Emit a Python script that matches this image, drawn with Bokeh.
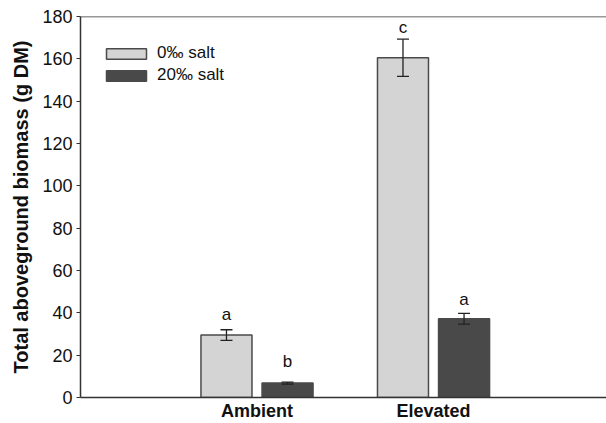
import numpy as np
from bokeh.plotting import figure
from bokeh.models import (ColumnDataSource, Whisker, TeeHead, Legend, LegendItem,
                          FixedTicker, Span, Range1d)
from bokeh.core.properties import value
from bokeh.embed import file_html
from bokeh.resources import INLINE

# ---- data ----
treatments = ["Ambient", "Elevated"]
salt0_mean = [29.5, 160.5]
salt0_se = [2.5, 8.8]
salt20_mean = [6.8, 37.2]
salt20_se = [0.5, 2.5]
letters0 = ["a", "c"]
letters20 = ["b", "a"]
y_ticks = [0, 20, 40, 60, 80, 100, 120, 140, 160, 180]

# annotation heights for significance letters (data units)
letters0_y = [39.3, 174.6]
letters20_y = [17.2, 46.2]

FONT = "Liberation Sans"
LIGHT = "#d4d4d4"
DARK = "#494949"
EDGE = "#4a4a4a"

xc = np.arange(1, len(treatments) + 1, dtype=float)
off = 0.173
bw = 0.289

src0 = ColumnDataSource(dict(
    x=xc - off, top=salt0_mean,
    upper=np.array(salt0_mean) + np.array(salt0_se),
    lower=np.array(salt0_mean) - np.array(salt0_se),
    lab=letters0, ly=letters0_y))
src20 = ColumnDataSource(dict(
    x=xc + off, top=salt20_mean,
    upper=np.array(salt20_mean) + np.array(salt20_se),
    lower=np.array(salt20_mean) - np.array(salt20_se),
    lab=letters20, ly=letters20_y))

p = figure(width=606, height=423, output_backend="svg", toolbar_location=None,
           x_range=Range1d(0, 2.98), y_range=Range1d(0, 180),
           min_border_left=80, min_border_right=0, min_border_top=16,
           min_border_bottom=25)
p.outline_line_color = None
p.grid.visible = False
p.background_fill_color = "white"
p.border_fill_color = "white"

r0 = p.vbar(x="x", top="top", width=bw, source=src0, fill_color=LIGHT,
            line_color=EDGE, line_width=1.5)
r20 = p.vbar(x="x", top="top", width=bw, source=src20, fill_color=DARK,
             line_color=EDGE, line_width=1.5)

for s in (src0, src20):
    w = Whisker(base="x", upper="upper", lower="lower", source=s,
                line_color="#222222", line_width=1.3, level="overlay",
                upper_head=TeeHead(size=12, line_color="#222222", line_width=1.3),
                lower_head=TeeHead(size=12, line_color="#222222", line_width=1.3))
    p.add_layout(w)
    p.text(x="x", y="ly", text="lab", source=s, text_align="center",
           text_baseline="middle", text_font=value(FONT),
           text_font_size="17px", text_color="#111111")

# top frame line
p.add_layout(Span(location=180, dimension="width", line_color="#333333",
                  line_width=1.5))

# axes
p.yaxis.ticker = FixedTicker(ticks=y_ticks)
p.yaxis.axis_label = "Total aboveground biomass (g DM)"
p.yaxis.axis_label_text_font = FONT
p.yaxis.axis_label_text_font_style = "bold"
p.yaxis.axis_label_text_font_size = "20px"
p.yaxis.axis_label_text_color = "#111111"
p.yaxis.axis_label_standoff = 7
p.yaxis.major_label_text_font = FONT
p.yaxis.major_label_text_font_size = "18px"
p.yaxis.major_label_text_color = "#111111"
p.yaxis.major_tick_out = 4
p.yaxis.major_tick_in = 0
p.yaxis.minor_tick_out = 0
p.yaxis.minor_tick_in = 0
p.yaxis.major_label_standoff = 4

p.xaxis.ticker = FixedTicker(ticks=list(xc))
p.xaxis.major_label_overrides = {float(v): t for v, t in zip(xc, treatments)}
p.xaxis.major_label_text_font = FONT
p.xaxis.major_label_text_font_style = "bold"
p.xaxis.major_label_text_font_size = "18px"
p.xaxis.major_label_text_color = "#111111"
p.xaxis.major_tick_out = 0
p.xaxis.major_tick_in = 0
p.xaxis.minor_tick_out = 0
p.xaxis.minor_tick_in = 0
p.xaxis.major_label_standoff = 3

for ax in (p.xaxis, p.yaxis):
    ax.axis_line_color = "#333333"
    ax.axis_line_width = 1.5
    ax.major_tick_line_color = "#333333"

legend = Legend(items=[LegendItem(label="0\u2030 salt", renderers=[r0]),
                       LegendItem(label="20\u2030 salt", renderers=[r20])],
                location=(21, 312), margin=0, padding=0,
                border_line_color=None, background_fill_alpha=0,
                glyph_width=50, glyph_height=13, label_height=20,
                spacing=2, label_standoff=6,
                label_text_font=FONT, label_text_font_size="17px",
                label_text_color="#111111")
p.add_layout(legend)

open("out.html", "w").write(file_html(p, INLINE))
